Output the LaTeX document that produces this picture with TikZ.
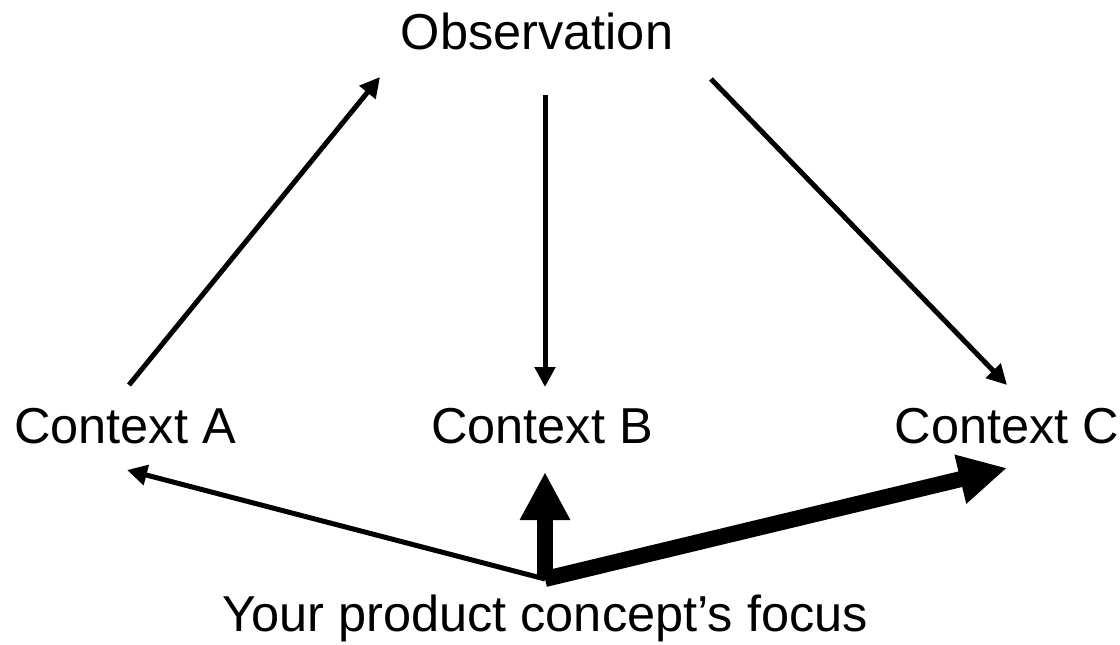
\documentclass[tikz,border=0pt]{standalone}
\usepackage{fontspec}
\setmainfont{Liberation Sans}
\usetikzlibrary{arrows.meta}
\begin{document}
\begin{tikzpicture}[x=1pt,y=-1pt,
  lbl/.style={anchor=base,inner sep=0pt,font=\fontsize{50.5}{60}\selectfont},
  thin/.style={line width=5pt,-{Triangle[length=20pt,width=20pt]}},
  thick/.style={line width=16pt,-{Triangle[length=48pt,width=47pt]}}]
\useasboundingbox (0,0) rectangle (1120,645);
\node[lbl] (obs) at (537,49) {Observation};
\node[lbl] (ca) at (125,443) {Context A};
\node[lbl] (cb) at (542,443) {Context B};
\node[lbl] (cc) at (1007,443) {Context C};
\node[lbl] (focus) at (545,631) {Your product concept’s focus};
% connector end points
\coordinate (caTop) at (129,385);
\coordinate (obsL) at (380,77);
\coordinate (obsM) at (545,95);
\coordinate (cbTop) at (545,387);
\coordinate (obsR) at (711,79);
\coordinate (ccTop) at (1007,385);
\coordinate (fo) at (545,579);
\coordinate (caBot) at (127,470);
\coordinate (cbBot) at (545,472);
\coordinate (ccBot) at (1007,468);
\draw[thin] (caTop) -- (obsL);
\draw[thin] (obsM) -- (cbTop);
\draw[thin] (obsR) -- (ccTop);
\draw[thin] (fo) -- (caBot);
\draw[thick] (fo) -- (cbBot);
\draw[thick] (fo) -- (ccBot);
\end{tikzpicture}
\end{document}
